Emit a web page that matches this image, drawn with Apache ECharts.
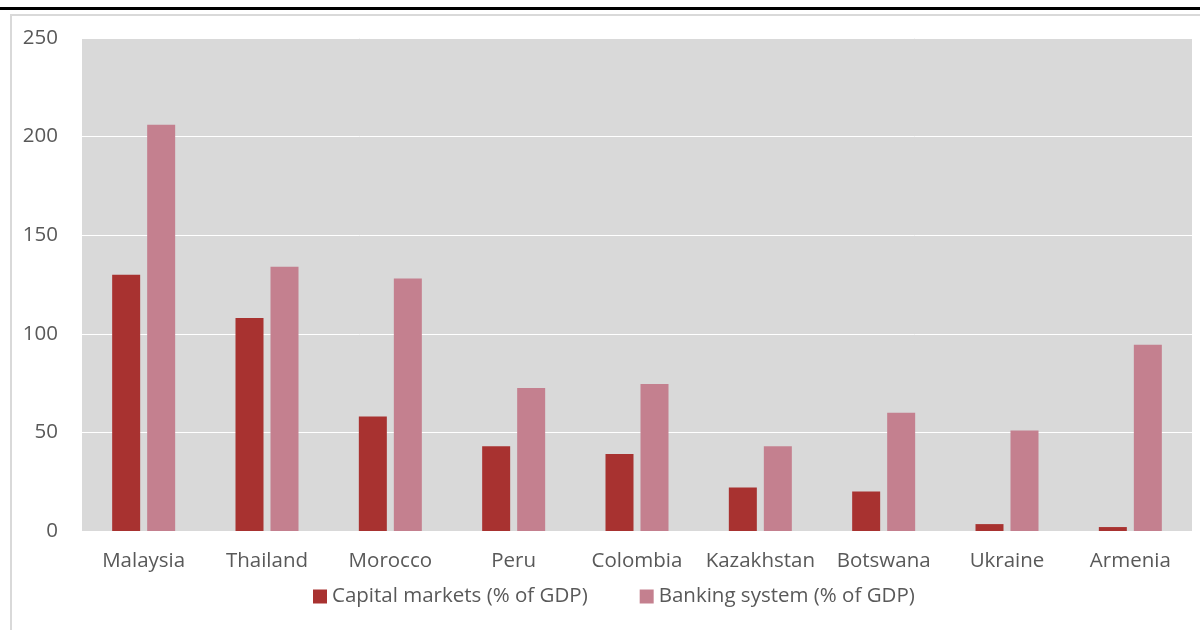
<!DOCTYPE html>
<html>
<head>
<meta charset="utf-8">
<style>
  html, body { margin: 0; padding: 0; background: #fff; }
  #chart { width: 1200px; height: 630px; }
</style>
<script src="https://cdn.jsdelivr.net/npm/echarts@6/dist/echarts.min.js"></script>
</head>
<body>
<div id="chart"></div>
<script>
// Countries along the x axis
const countries = ['Malaysia', 'Thailand', 'Morocco', 'Peru', 'Colombia', 'Kazakhstan', 'Botswana', 'Ukraine', 'Armenia']
// % of GDP
const capitalMarkets = [130, 108, 58, 43, 39, 22, 20, 3.5, 2]
const bankingSystem = [206, 134, 128, 72.5, 74.5, 43, 60, 51, 94.5]

const RED = '#a83230'
const PINK = '#c4808f'
const FONT = '"Open Sans", "Noto Sans", sans-serif'

const chart = echarts.init(document.getElementById('chart'))

chart.setOption({
  animation: false,
  textStyle: { fontFamily: FONT },
  // frame lines round the chart
  graphic: [
    { type: 'rect', shape: { x: 0, y: 7, width: 1200, height: 3 }, style: { fill: '#000' } },
    { type: 'rect', shape: { x: 10, y: 14, width: 1190, height: 2 }, style: { fill: '#d9d9d9' } },
    { type: 'rect', shape: { x: 10, y: 14, width: 2, height: 616 }, style: { fill: '#d9d9d9' } }
  ],
  grid: {
    left: 82, right: 8, top: 38, bottom: 99,
    show: true, backgroundColor: '#d9d9d9', borderWidth: 0
  },
  legend: {
    top: 581,
    left: 308,
    itemWidth: 14,
    itemHeight: 14,
    itemGap: 52,
    icon: 'rect',
    textStyle: { color: '#595959', fontSize: 20.5, fontFamily: FONT },
    data: ['Capital markets (% of GDP)', 'Banking system (% of GDP)']
  },
  xAxis: {
    type: 'category',
    data: countries,
    axisLine: { show: false },
    axisTick: { show: false },
    axisLabel: { color: '#595959', fontSize: 20.5, margin: 20, interval: 0 }
  },
  yAxis: {
    type: 'value',
    min: 0, max: 250, interval: 50,
    axisLine: { show: false },
    axisTick: { show: false },
    splitLine: { lineStyle: { color: '#ffffff', width: 1 } },
    axisLabel: { color: '#595959', fontSize: 20.5, margin: 24 }
  },
  series: [
    {
      name: 'Capital markets (% of GDP)',
      type: 'bar',
      data: capitalMarkets,
      barWidth: 28,
      barGap: '25%',
      itemStyle: { color: RED }
    },
    {
      name: 'Banking system (% of GDP)',
      type: 'bar',
      data: bankingSystem,
      barWidth: 28,
      itemStyle: { color: PINK }
    }
  ]
})
</script>
</body>
</html>
